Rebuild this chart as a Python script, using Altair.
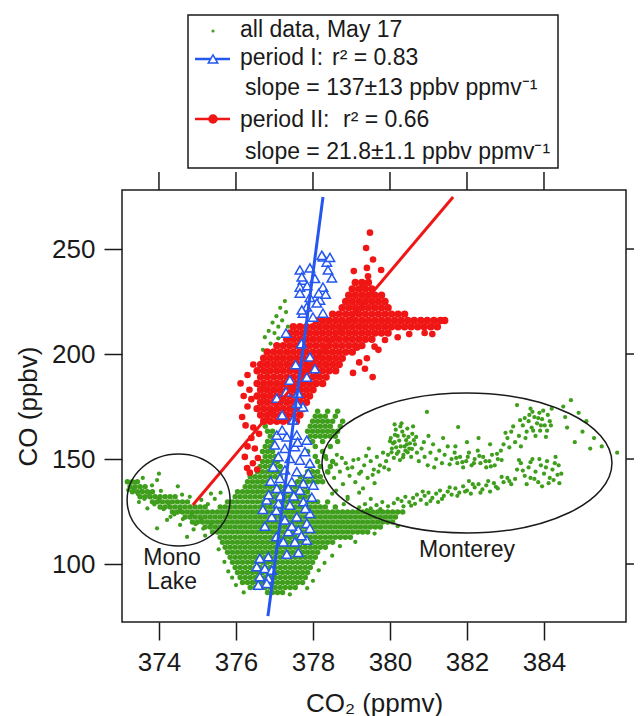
import altair as alt
import pandas as pd

FONT = "Liberation Sans"
GREEN = "#3f9e1c"
RED = "#f01616"
BLUE = "#2457f0"
INK = "#1a1a1a"

X_TICKS = [374, 376, 378, 380, 382, 384]
Y_TICKS = [100, 150, 200, 250]

GREEN_ROWS = [
    (86.4, [376.82, 376.95, 377.08, 377.21]),
    (88.8, [376.37, 376.50, 376.63, 376.76, 376.89, 377.02, 377.15, 377.28, 377.41, 377.54]),
    (91.2, [376.17, 376.30, 376.43, 376.56, 376.69, 376.82, 376.95, 377.08, 377.21, 377.34, 377.47, 377.60, 377.73]),
    (93.6, [376.11, 376.24, 376.37, 376.50, 376.63, 376.76, 376.89, 377.02, 377.15, 377.28, 377.41, 377.54, 377.67, 377.80]),
    (96.0, [376.04, 376.17, 376.30, 376.43, 376.56, 376.69, 376.82, 376.95, 377.08, 377.21, 377.34, 377.47, 377.60, 377.73, 377.86]),
    (98.4, [375.98, 376.11, 376.24, 376.37, 376.50, 376.63, 376.76, 376.89, 377.02, 377.15, 377.28, 377.41, 377.54, 377.67, 377.80, 377.93]),
    (100.8, [375.91, 376.04, 376.17, 376.30, 376.43, 376.56, 376.69, 376.82, 376.95, 377.08, 377.21, 377.34, 377.47, 377.60, 377.73, 377.86, 377.99]),
    (103.2, [375.85, 375.98, 376.11, 376.24, 376.37, 376.50, 376.63, 376.76, 376.89, 377.02, 377.15, 377.28, 377.41, 377.54, 377.67, 377.80, 377.93, 378.06]),
    (105.6, [375.78, 375.91, 376.04, 376.17, 376.30, 376.43, 376.56, 376.69, 376.82, 376.95, 377.08, 377.21, 377.34, 377.47, 377.60, 377.73, 377.86, 377.99, 378.12]),
    (108.0, [375.72, 375.85, 375.98, 376.11, 376.24, 376.37, 376.50, 376.63, 376.76, 376.89, 377.02, 377.15, 377.28, 377.41, 377.54, 377.67, 377.80, 377.93, 378.06, 378.19, 378.32]),
    (110.4, [375.65, 375.78, 375.91, 376.04, 376.17, 376.30, 376.43, 376.56, 376.69, 376.82, 376.95, 377.08, 377.21, 377.34, 377.47, 377.60, 377.73, 377.86, 377.99, 378.12, 378.25, 378.38, 378.51]),
    (112.8, [375.59, 375.72, 375.85, 375.98, 376.11, 376.24, 376.37, 376.50, 376.63, 376.76, 376.89, 377.02, 377.15, 377.28, 377.41, 377.54, 377.67, 377.80, 377.93, 378.06, 378.19, 378.32, 378.45, 378.58, 378.71, 378.84, 378.97]),
    (115.2, [375.39, 375.52, 375.65, 375.78, 375.91, 376.04, 376.17, 376.30, 376.43, 376.56, 376.69, 376.82, 376.95, 377.08, 377.21, 377.34, 377.47, 377.60, 377.73, 377.86, 377.99, 378.12, 378.25, 378.38, 378.51, 378.64, 378.77, 378.90, 379.03, 379.16, 379.29, 379.42]),
    (117.6, [375.20, 375.33, 375.46, 375.59, 375.72, 375.85, 375.98, 376.11, 376.24, 376.37, 376.50, 376.63, 376.76, 376.89, 377.02, 377.15, 377.28, 377.41, 377.54, 377.67, 377.80, 377.93, 378.06, 378.19, 378.32, 378.45, 378.58, 378.71, 378.84, 378.97, 379.10, 379.23, 379.36, 379.49, 379.62, 379.75]),
    (120.0, [374.87, 375.00, 375.13, 375.26, 375.39, 375.52, 375.65, 375.78, 375.91, 376.04, 376.17, 376.30, 376.43, 376.56, 376.69, 376.82, 376.95, 377.08, 377.21, 377.34, 377.47, 377.60, 377.73, 377.86, 377.99, 378.12, 378.25, 378.38, 378.51, 378.64, 378.77, 378.90, 379.03, 379.16, 379.29, 379.42, 379.55, 379.68, 379.81, 379.94, 380.07]),
    (122.4, [374.68, 374.81, 374.94, 375.07, 375.20, 375.33, 375.46, 375.59, 375.72, 375.85, 375.98, 376.11, 376.24, 376.37, 376.50, 376.63, 376.76, 376.89, 377.02, 377.15, 377.28, 377.41, 377.54, 377.67, 377.80, 377.93, 378.06, 378.19, 378.32, 378.45, 378.58, 378.71, 378.84, 378.97, 379.10, 379.23, 379.36, 379.49, 379.62, 379.75, 379.88, 380.01, 380.14]),
    (124.8, [374.35, 374.48, 374.61, 374.74, 374.87, 375.00, 375.13, 375.26, 375.39, 375.52, 375.65, 375.78, 375.91, 376.04, 376.17, 376.30, 376.43, 376.56, 376.69, 376.82, 376.95, 377.08, 377.21, 377.34, 377.47, 377.60, 377.73, 377.86, 377.99, 378.12, 378.25, 378.38, 378.51, 378.64, 378.77, 378.90, 379.03, 379.16, 379.29, 379.42, 379.55, 379.68, 379.81, 379.94, 380.07, 380.20, 380.33]),
    (127.2, [374.03, 374.16, 374.29, 374.42, 374.55, 374.68, 374.81, 374.94, 375.07, 375.20, 375.59, 375.72, 375.85, 375.98, 376.11, 376.24, 376.37, 376.50, 376.63, 376.76, 376.89, 377.02, 377.15, 377.28, 377.41, 377.54, 377.67, 377.80, 377.93, 378.06, 378.19, 378.32, 378.58]),
    (129.6, [373.83, 373.96, 374.09, 374.22, 374.35, 374.48, 374.61, 374.74, 375.78, 375.91, 376.04, 376.17, 376.30, 376.43, 376.56, 376.69, 376.82, 376.95, 377.08, 377.21, 377.34, 377.47, 377.60, 377.73, 377.86, 377.99, 378.12, 378.38]),
    (132.0, [373.51, 373.64, 373.77, 373.90, 374.03, 374.16, 374.29, 374.42, 375.98, 376.11, 376.24, 376.37, 376.50, 376.63, 376.76, 376.89, 377.02, 377.15, 377.28, 377.41, 377.54, 377.67, 377.80, 377.93]),
    (134.4, [373.31, 373.44, 373.57, 373.70, 373.83, 376.04, 376.17, 376.30, 376.43, 376.56, 376.69, 376.82, 376.95, 377.08, 377.21, 377.34, 377.47, 377.60, 377.73, 377.86]),
    (136.8, [373.25, 373.38, 373.51, 373.64, 376.24, 376.37, 376.50, 376.63, 376.76, 376.89, 377.02, 377.15, 377.28, 377.41, 377.54, 377.67, 377.80]),
    (139.2, [373.18, 373.31, 373.44, 376.30, 376.43, 376.56, 376.69, 376.82, 377.60, 377.73, 377.86, 377.99, 378.12, 378.25]),
    (141.6, [376.37, 376.50, 376.63, 376.76, 376.89, 377.02, 377.15, 377.67, 377.80, 377.93, 378.06, 378.19]),
    (144.0, [376.56, 376.69, 376.82, 376.95, 377.08, 377.21, 377.86, 377.99, 378.12, 378.38]),
    (146.4, [376.63, 376.76, 376.89, 377.02, 377.15, 377.93, 378.19, 378.45]),
    (148.8, [376.69, 376.82, 376.95, 377.08, 378.12, 378.51]),
    (151.2, [376.76, 376.89, 377.02, 378.06, 378.32]),
    (153.6, [376.69, 376.82, 376.95, 377.86, 378.25]),
    (156.0, [376.76, 376.89, 377.02, 378.06, 378.45]),
    (158.4, [376.82, 376.95, 377.99, 378.25, 378.64]),
    (160.8, [376.89, 377.02, 377.93, 378.06, 378.19, 378.32, 378.45, 378.58]),
    (163.2, [376.82, 376.95, 377.86, 377.99, 378.12, 378.25, 378.38, 378.51, 378.64]),
    (165.6, [376.76, 377.93, 378.06, 378.19, 378.32, 378.45, 378.71]),
    (168.0, [377.99, 378.12, 378.25, 378.38, 378.51, 378.77]),
    (170.4, [378.06, 378.19, 378.32, 378.58]),
    (172.8, [378.12, 378.38, 378.64]),
]

GREEN_SCATTER = [
    # Mono Lake
    (373.58, 141.0), (373.95, 140.0), (373.82, 137.5), (374.49, 137.0), (374.05, 134.8), (373.20, 135.2),
    (373.36, 139.0), (373.95, 117.0), (374.21, 121.0), (375.27, 128.5), (375.45, 131.0), (375.10, 130.5),
    (374.73, 112.9), (374.55, 118.6), (374.30, 122.5), (373.70, 126.5), (374.60, 133.0), (375.35, 133.5),
    (373.25, 138.8), (374.00, 143.0), (374.90, 116.5), (375.20, 113.5), (373.48, 129.5), (374.80, 132.0),
    (373.45, 133.3), (373.62, 131.0), (373.88, 128.4), (374.12, 126.1), (374.40, 123.6), (374.62, 121.4),
    (374.95, 119.0), (375.15, 116.9), (373.35, 135.8), (373.55, 134.9), (373.75, 132.8), (374.00, 130.9),
    (374.25, 128.7), (374.55, 126.0), (374.85, 123.5), (375.10, 121.2), (375.35, 119.1), (375.55, 117.2),
    # around the central blob
    (375.60, 134.0), (375.55, 107.0), (375.70, 101.0), (375.80, 96.5), (378.70, 108.5), (378.50, 104.0),
    (378.30, 100.5), (378.15, 97.0), (378.00, 92.0), (377.85, 88.5), (376.00, 90.0), (375.90, 93.5),
    (376.20, 86.5), (377.40, 85.5), (378.90, 132.0), (379.20, 134.0), (379.50, 131.0), (378.80, 128.5),
    (378.60, 135.0), (379.10, 110.5), (379.60, 114.5), (380.20, 118.0),
    # hidden under period II
    (376.63, 176.0), (376.76, 178.0), (376.89, 181.0), (376.70, 184.0), (376.95, 186.0), (377.08, 189.0),
    (376.80, 191.0), (377.90, 188.0), (378.10, 190.0), (378.20, 186.0), (378.00, 193.0), (378.30, 195.0),
    (376.70, 202.0), (376.90, 205.0), (376.75, 208.0), (377.00, 210.0), (377.10, 213.0), (376.95, 215.0),
    (377.20, 216.0), (377.05, 218.0), (377.30, 220.0), (377.15, 222.0), (377.27, 225.2), (376.85, 211.0),
    (377.35, 213.0), (377.10, 207.5),
    # Monterey, upper band
    (378.35, 150.0), (378.45, 146.0), (378.55, 141.0), (378.62, 152.0), (378.70, 144.0), (378.78, 138.0),
    (378.85, 148.0), (378.95, 142.0), (379.02, 146.0), (379.10, 139.0), (379.18, 150.0), (379.25, 144.0),
    (379.33, 147.0), (379.42, 141.0), (379.50, 149.0), (379.58, 145.0), (379.66, 151.0), (379.74, 147.0),
    (379.82, 153.0), (379.90, 149.0), (379.97, 145.0), (379.30, 136.0), (379.60, 138.5), (378.50, 133.5),
    (378.90, 131.0), (379.45, 155.0),
    (378.40, 143.5), (378.60, 147.5), (378.75, 150.5), (378.90, 145.5), (379.05, 149.5), (379.20, 143.0),
    (379.38, 151.5), (379.55, 142.5), (379.70, 144.0), (379.85, 146.0),
    (379.95, 152.0), (380.05, 155.0), (380.12, 158.0), (380.20, 161.0), (380.28, 156.0), (380.35, 152.0),
    (380.42, 159.0), (380.50, 155.0), (380.58, 162.0), (380.65, 157.0), (380.10, 150.5), (380.22, 153.5),
    (380.32, 163.0), (380.45, 164.5), (380.55, 151.0), (380.70, 153.0), (380.02, 160.0), (380.15, 164.0),
    (380.38, 156.0), (380.48, 160.5), (380.62, 159.0), (380.26, 149.5), (380.08, 157.5), (380.40, 154.0),
    (380.60, 165.5), (380.30, 167.0), (380.18, 152.5), (380.52, 157.5),
    (380.00, 158.5), (380.13, 161.5), (380.24, 158.8), (380.36, 161.2), (380.46, 153.2), (380.57, 154.8),
    (380.68, 160.5), (380.04, 153.2), (380.16, 155.6), (380.34, 150.8), (380.44, 157.0), (380.27, 165.5),
    (380.12, 166.5),
    (380.75, 149.0), (380.82, 155.0), (380.90, 151.0), (380.98, 147.0), (381.05, 153.0), (381.12, 157.0),
    (381.20, 150.0), (381.28, 154.0), (381.35, 148.0), (381.42, 152.0), (381.50, 156.0), (380.88, 158.0),
    (381.15, 146.0), (380.96, 172.4), (381.00, 161.0), (381.38, 160.0),
    (381.60, 150.0), (381.68, 153.0), (381.75, 148.0), (381.82, 151.0), (381.90, 146.0), (381.98, 149.0),
    (382.05, 153.0), (382.12, 147.0), (382.20, 150.0), (382.28, 154.0), (382.35, 148.0), (382.42, 151.0),
    (382.50, 146.0), (382.58, 149.0), (382.65, 152.0), (382.72, 147.0), (382.80, 150.0), (382.88, 154.0),
    (381.77, 165.2), (382.00, 158.0), (382.30, 160.0), (382.60, 157.0), (381.70, 156.0),
    (381.55, 147.5), (381.72, 150.5), (381.88, 148.5), (382.02, 151.0), (382.18, 148.0), (382.32, 151.5),
    (382.48, 149.0), (382.62, 146.5), (382.78, 152.5), (382.90, 149.5),
    (382.95, 157.0), (383.05, 160.0), (383.15, 163.0), (383.25, 158.0), (383.30, 175.7), (383.35, 161.0),
    (383.45, 166.0), (383.55, 163.0), (383.60, 168.0), (383.68, 165.0), (383.75, 170.0), (383.82, 167.0),
    (383.88, 172.0), (383.95, 169.0), (384.02, 166.0), (384.10, 171.0), (384.15, 168.0), (383.70, 172.5),
    (383.90, 163.5), (384.20, 174.0), (383.50, 169.5), (383.40, 156.0), (383.10, 155.5), (384.05, 160.5),
    (383.78, 161.0),
    (383.00, 162.5), (383.20, 165.5), (383.38, 168.5), (383.52, 160.0), (383.62, 171.0), (383.72, 163.5),
    (383.85, 169.5), (383.98, 173.0), (384.08, 163.5), (384.18, 166.0), (383.92, 166.0), (383.65, 174.0),
    (383.30, 145.0), (383.40, 148.0), (383.50, 142.0), (383.60, 146.0), (383.70, 150.0), (383.78, 144.0),
    (383.85, 139.0), (383.92, 147.0), (384.00, 143.0), (384.08, 149.0), (384.15, 141.0), (384.22, 145.0),
    (384.30, 151.0), (384.38, 147.0), (383.55, 138.0), (384.40, 138.5),
    (383.35, 149.5), (383.45, 144.5), (383.65, 148.5), (383.75, 140.5), (383.88, 150.0), (384.05, 146.0),
    (384.12, 138.5), (384.28, 148.0), (384.35, 142.5),
    (384.50, 175.0), (384.70, 178.0), (384.90, 172.0), (385.10, 168.0), (384.60, 165.0), (385.30, 160.0),
    (385.50, 156.0), (385.90, 153.0), (384.80, 158.0), (385.00, 163.0), (384.55, 170.0), (385.20, 155.0),
    # Monterey, lower band
    (379.20, 127.0), (379.35, 128.5), (379.50, 126.5), (379.65, 128.0), (379.80, 129.5), (379.95, 127.5),
    (380.10, 129.0), (380.20, 131.0), (379.40, 125.7), (379.75, 126.2),
    (380.30, 130.0), (380.40, 132.0), (380.50, 129.5), (380.60, 131.5), (380.70, 133.0), (380.80, 130.5),
    (380.90, 132.5), (381.00, 134.0), (381.10, 131.5), (381.20, 133.5), (381.30, 135.0), (381.40, 132.5),
    (381.50, 134.5), (380.55, 127.8), (380.95, 128.6), (381.25, 129.5),
    (381.60, 133.0), (381.70, 136.0), (381.80, 134.0), (381.90, 137.0), (382.00, 135.0), (382.10, 133.5),
    (382.20, 136.5), (382.30, 138.0), (382.40, 135.5), (382.50, 137.5), (382.60, 134.5), (382.70, 138.5),
    (382.80, 136.0), (382.05, 139.5),
    (382.95, 139.0), (383.05, 141.0), (383.15, 138.0), (383.25, 140.5), (383.65, 141.0), (383.95, 137.0),
    (384.25, 140.0), (384.45, 143.0),
    (380.35, 127.5), (380.65, 128.7), (380.85, 134.5), (381.05, 130.0), (381.35, 131.0), (381.55, 136.5),
    (381.75, 132.5), (381.95, 134.5), (382.15, 138.0), (382.35, 134.0), (382.55, 139.5), (382.75, 136.8),
    (382.90, 141.5), (383.10, 139.5),
]

# ---- period II (dense rows, then scattered points)
RED_ROWS = [
    (168, [376.72, 376.89, 377.06, 377.23, 377.40, 377.57]),
    (171, [376.64, 376.81, 376.98, 377.15, 377.32, 377.49, 377.66]),
    (174, [376.55, 376.72, 376.89, 377.06, 377.23, 377.40, 377.57, 377.74]),
    (177, [376.64, 376.81, 376.98, 377.15, 377.32, 377.49, 377.66, 377.83]),
    (180, [376.55, 376.72, 376.89, 377.06, 377.23, 377.40, 377.57, 377.74, 377.91]),
    (183, [376.64, 376.81, 376.98, 377.15, 377.32, 377.49, 377.66, 377.83, 378.00]),
    (186, [376.55, 376.72, 376.89, 377.06, 377.23, 377.40, 377.57, 377.74, 377.91, 378.08, 378.25]),
    (189, [376.64, 376.81, 376.98, 377.15, 377.32, 377.49, 377.66, 377.83, 378.00, 378.17, 378.34]),
    (192, [376.55, 376.72, 376.89, 377.06, 377.23, 377.40, 377.57, 377.74, 377.91, 378.08, 378.25, 378.42, 378.59]),
    (195, [376.64, 376.81, 376.98, 377.15, 377.32, 377.49, 377.66, 377.83, 378.00, 378.17, 378.34, 378.51, 378.68]),
    (198, [376.72, 376.89, 377.06, 377.23, 377.40, 377.57, 377.74, 377.91, 378.08, 378.25, 378.42, 378.59, 378.76]),
    (201, [376.81, 376.98, 377.15, 377.32, 377.49, 377.66, 377.83, 378.00, 378.17, 378.34, 378.51, 378.68, 378.85, 379.02]),
    (204, [377.06, 377.23, 377.40, 377.57, 377.74, 377.91, 378.08, 378.25, 378.42, 378.59, 378.76, 378.93, 379.10, 379.27]),
    (207, [377.32, 377.49, 377.66, 377.83, 378.00, 378.17, 378.34, 378.51, 378.68, 378.85, 379.02, 379.19, 379.36, 379.53]),
    (210, [377.40, 377.57, 377.74, 377.91, 378.08, 378.25, 378.42, 378.59, 378.76, 378.93, 379.10, 379.27, 379.44, 379.61, 379.78, 379.95]),
    (213, [377.49, 377.66, 377.83, 378.00, 378.17, 378.34, 378.51, 378.68, 378.85, 379.02, 379.19, 379.36, 379.53, 379.70, 379.87, 380.04, 380.21, 380.38, 380.55, 380.72, 380.89, 381.06, 381.23]),
    (216, [378.08, 378.25, 378.42, 378.59, 378.76, 378.93, 379.10, 379.27, 379.44, 379.61, 379.78, 379.95, 380.12, 380.29, 380.46, 380.63, 380.80, 380.97, 381.14, 381.31, 381.42]),
    (219, [378.51, 378.68, 378.85, 379.02, 379.19, 379.36, 379.53, 379.70, 379.87, 380.04, 380.21, 380.38]),
    (222, [378.76, 378.93, 379.10, 379.27, 379.44, 379.61, 379.78, 379.95]),
    (225, [378.85, 379.02, 379.19, 379.36, 379.53, 379.70, 379.87]),
    (228, [378.93, 379.10, 379.27, 379.44, 379.61, 379.78]),
    (231, [379.02, 379.19, 379.36, 379.53]),
    (234, [379.10, 379.27, 379.44]),
]

RED_SCATTER = [
    (379.48, 257.8), (379.38, 250.5), (379.56, 245.0), (379.40, 241.0), (379.06, 239.5), (379.77, 240.0),
    (379.43, 237.0), (379.30, 232.9),
    (379.04, 191.0), (379.40, 198.0), (379.35, 193.0), (379.87, 206.7), (379.70, 202.0), (379.20, 196.0),
    (379.55, 189.0), (379.14, 203.0), (379.60, 203.5), (380.20, 208.0), (380.50, 209.5), (380.90, 210.0),
    (381.10, 209.5),
    (376.49, 155.0), (376.23, 151.0), (376.44, 148.0), (376.29, 145.7), (376.55, 145.0), (376.36, 143.5),
    (376.57, 150.5), (376.30, 156.0), (376.40, 160.0), (376.60, 162.0), (376.25, 166.0), (376.45, 165.0),
    (376.16, 170.0), (376.30, 175.0), (376.40, 178.5), (376.12, 186.0), (376.20, 180.0), (376.35, 183.0),
    (376.30, 190.0), (376.45, 195.0),
]

# ---- period I
BLUE_POINTS = [
    (378.26, 246.2), (378.36, 243.8), (378.39, 240.0), (378.49, 236.2), (377.66, 240.0), (377.74, 235.2),
    (377.66, 231.9), (378.26, 231.9), (378.18, 225.7), (377.84, 222.4), (377.74, 219.5), (378.26, 219.5),
    (378.00, 217.6), (377.92, 227.0), (378.23, 247.0), (378.44, 246.0), (377.92, 241.0), (377.71, 236.7),
    (377.66, 229.0), (378.10, 224.3), (377.71, 221.0), (378.05, 236.0), (378.15, 229.0), (377.85, 232.5),
    (378.33, 228.5),
    (377.30, 210.0), (377.92, 198.6), (377.84, 189.0), (377.40, 187.6), (377.61, 181.4), (377.74, 174.8),
    (377.48, 168.6), (377.06, 179.0), (377.30, 182.0), (377.58, 176.5), (377.70, 205.0), (377.55, 195.0),
    (377.20, 171.0), (378.05, 193.0),
    (377.06, 161.4), (377.32, 160.6), (377.58, 161.4), (377.84, 159.0), (377.01, 156.7), (377.27, 155.1),
    (377.53, 155.9), (377.79, 153.5), (377.10, 151.1), (377.40, 150.3), (377.66, 149.5), (377.92, 148.0),
    (376.97, 146.3), (377.27, 144.8), (377.58, 144.0), (377.88, 143.2), (377.14, 140.8), (377.45, 139.2),
    (377.75, 138.4), (378.01, 137.6), (377.06, 136.0), (377.36, 136.0), (377.66, 135.2),
    (376.80, 130.5), (377.10, 128.9), (377.40, 128.1), (377.75, 129.7), (377.92, 124.1), (376.93, 122.5),
    (377.27, 121.0), (377.58, 122.5), (377.84, 119.4), (377.36, 115.4), (377.62, 116.2), (377.92, 117.0),
    (377.23, 110.6), (377.53, 110.6), (377.84, 111.4), (377.32, 104.7), (377.62, 105.5),
    (376.70, 126.0), (376.75, 118.0), (377.05, 125.5), (377.15, 132.5), (377.50, 132.5), (377.80, 126.5),
    (377.70, 113.5), (377.45, 118.0), (377.05, 113.0), (377.97, 131.8), (376.90, 139.5), (377.60, 158.0),
    (377.20, 163.8), (376.85, 133.0),
    (376.62, 102.7), (376.84, 103.5), (376.54, 98.7), (376.75, 97.9), (376.93, 97.1), (376.62, 94.0),
    (376.84, 93.2), (376.58, 90.0), (376.80, 90.8),
]

# ---- regression lines (end points)
FIT_I_X = [376.83, 378.26]
FIT_I_Y = [75.2, 274.8]
FIT_II_X = [374.88, 381.64]
FIT_II_Y = [128.1, 274.8]

# ---- regions and labels
REGION_NAMES = ["Mono Lake", "Monterey"]
REGION_CX = [374.51, 382.0]
REGION_CY = [130.5, 148.1]
LABELS = ["Mono", "Lake", "Monterey"]
LABEL_X = [374.34, 374.34, 382.0]
LABEL_Y = [102.9, 91.4, 106.7]

LEGEND_TEXT = [
    "all data, May 17",
    "period I:",
    "r² = 0.83",
    "slope = 137±13 ppbv ppmv⁻¹",
    "period II:",
    "r² = 0.66",
    "slope = 21.8±1.1 ppbv ppmv⁻¹",
]

# ------------------------------------------------------------------
def rows_df(rows):
    return pd.DataFrame([(x, y) for y, xs in rows for x in xs], columns=["x", "y"])

green_rows_df = rows_df(GREEN_ROWS)
green_sc_df = pd.DataFrame(GREEN_SCATTER, columns=["x", "y"])
red_rows_df = rows_df(RED_ROWS)
red_sc_df = pd.DataFrame(RED_SCATTER, columns=["x", "y"])
blue_df = pd.DataFrame(BLUE_POINTS, columns=["x", "y"])
fit1_df = pd.DataFrame({"x": FIT_I_X, "y": FIT_I_Y})
fit2_df = pd.DataFrame({"x": FIT_II_X, "y": FIT_II_Y})
region_df = pd.DataFrame({"name": REGION_NAMES, "x": REGION_CX, "y": REGION_CY})
label_df = pd.DataFrame({"t": LABELS, "x": LABEL_X, "y": LABEL_Y})
xtick_df = pd.DataFrame({"x": X_TICKS})
ytick_df = pd.DataFrame({"y": Y_TICKS})

xs = alt.Scale(domain=[373.04, 386.13], nice=False, zero=False)
ys = alt.Scale(domain=[72.4, 278.1], nice=False, zero=False)

AX_X = alt.Axis(values=X_TICKS, title="CO₂ (ppmv)", grid=False, domain=False,
                tickSize=18, tickWidth=1.5, tickColor=INK,
                labelFontSize=26, labelFont=FONT, labelColor=INK, labelPadding=9,
                titleFontSize=26, titleFont=FONT, titleFontWeight="normal",
                titleColor=INK, titlePadding=15)
AX_Y = alt.Axis(values=Y_TICKS, title="CO (ppbv)", grid=False, domain=False,
                tickSize=18, tickWidth=1.5, tickColor=INK,
                labelFontSize=26, labelFont=FONT, labelColor=INK, labelPadding=9,
                titleFontSize=26, titleFont=FONT, titleFontWeight="normal",
                titleColor=INK, titlePadding=10)

X = alt.X("x:Q", scale=xs, axis=AX_X)
Y = alt.Y("y:Q", scale=ys, axis=AX_Y)

green_a = alt.Chart(green_rows_df).mark_circle(size=30, color=GREEN, opacity=1).encode(x=X, y=Y)
green_b = alt.Chart(green_sc_df).mark_circle(size=18, color=GREEN, opacity=1).encode(x=X, y=Y)
red_a = alt.Chart(red_rows_df).mark_circle(size=56, color=RED, opacity=1).encode(x=X, y=Y)
red_b = alt.Chart(red_sc_df).mark_circle(size=44, color=RED, opacity=1).encode(x=X, y=Y)
blue = alt.Chart(blue_df).mark_point(shape="triangle-up", size=90, filled=True, fill="white",
                                     stroke=BLUE, strokeWidth=1.5, opacity=1).encode(x=X, y=Y)
fit2 = alt.Chart(fit2_df).mark_line(color=RED, strokeWidth=3).encode(x=X, y=Y)
fit1 = alt.Chart(fit1_df).mark_line(color=BLUE, strokeWidth=3).encode(x=X, y=Y)

# mirrored ticks on the top and right edges of the frame
top_ticks = alt.Chart(xtick_df).mark_rule(color=INK, strokeWidth=1.5).encode(
    x=X, y=alt.value(0), y2=alt.value(-18))
right_ticks = alt.Chart(ytick_df).mark_rule(color=INK, strokeWidth=1.5).encode(
    y=Y, x=alt.value(504), x2=alt.value(522))

ELLIPSE_MONO = ("M -1 0 C -1 -0.4932 -0.5523 -0.893 0 -0.893 C 0.5523 -0.893 1 -0.4932 1 0 "
                "C 1 0.4932 0.5523 0.893 0 0.893 C -0.5523 0.893 -1 0.4932 -1 0 Z")
ELLIPSE_MONT = ("M -1 0 C -1 -0.2667 -0.5523 -0.483 0 -0.483 C 0.5523 -0.483 1 -0.2667 1 0 "
                "C 1 0.2667 0.5523 0.483 0 0.483 C -0.5523 0.483 -1 0.2667 -1 0 Z")
ell_mono = alt.Chart(region_df).transform_filter(alt.datum.name == "Mono Lake").mark_point(
    shape=ELLIPSE_MONO, size=103 * 103, filled=False, stroke=INK, strokeWidth=1.5, opacity=1
).encode(x=X, y=Y)
ell_mont = alt.Chart(region_df).transform_filter(alt.datum.name == "Monterey").mark_point(
    shape=ELLIPSE_MONT, size=290 * 290, filled=False, stroke=INK, strokeWidth=1.5, opacity=1
).encode(x=X, y=Y)

labels = alt.Chart(label_df).mark_text(font=FONT, fontSize=23, color=INK, align="center",
                                        baseline="middle").encode(x=X, y=Y, text="t:N")

# ---- legend box (above the plot)
one = pd.DataFrame({"a": [0]})
leg_box = alt.Chart(one).mark_rect(fill="white", stroke=INK, strokeWidth=1.5).encode(
    x=alt.value(66), x2=alt.value(436), y=alt.value(-175), y2=alt.value(-22))
leg_green = alt.Chart(one).mark_circle(size=10, color=GREEN, opacity=1).encode(
    x=alt.value(91), y=alt.value(-159))
leg_bline = alt.Chart(one).mark_rule(color=BLUE, strokeWidth=2.5).encode(
    x=alt.value(73), x2=alt.value(108), y=alt.value(-131))
leg_btri = alt.Chart(one).mark_point(shape="triangle-up", size=90, filled=True, fill="white",
                                     stroke=BLUE, strokeWidth=1.5, opacity=1).encode(
    x=alt.value(91), y=alt.value(-131))
leg_rline = alt.Chart(one).mark_rule(color=RED, strokeWidth=2.5).encode(
    x=alt.value(73), x2=alt.value(108), y=alt.value(-71))
leg_rdot = alt.Chart(one).mark_circle(size=90, color=RED, opacity=1).encode(
    x=alt.value(91), y=alt.value(-71))

LEG_POS = [(118, -160), (118, -132), (210, -132), (123, -102), (118, -70), (221, -70), (123, -38)]
leg_texts = [
    alt.Chart(one).mark_text(text=t, font=FONT, fontSize=23, color=INK, align="left",
                             baseline="middle").encode(x=alt.value(px), y=alt.value(py))
    for t, (px, py) in zip(LEGEND_TEXT, LEG_POS)
]

chart = alt.layer(
    green_a, green_b, red_a, red_b, blue, fit2, fit1, ell_mono, ell_mont, labels,
    top_ticks, right_ticks,
    leg_box, leg_green, leg_bline, leg_btri, leg_rline, leg_rdot, *leg_texts
).properties(
    width=504, height=432,
    autosize=alt.AutoSizeParams(type="none"),
    padding={"left": 114, "top": 182, "right": 8, "bottom": 94},
).configure_view(stroke=INK, strokeWidth=1.5)

chart.save("out.html", embed_options={"renderer": "svg", "actions": False})
